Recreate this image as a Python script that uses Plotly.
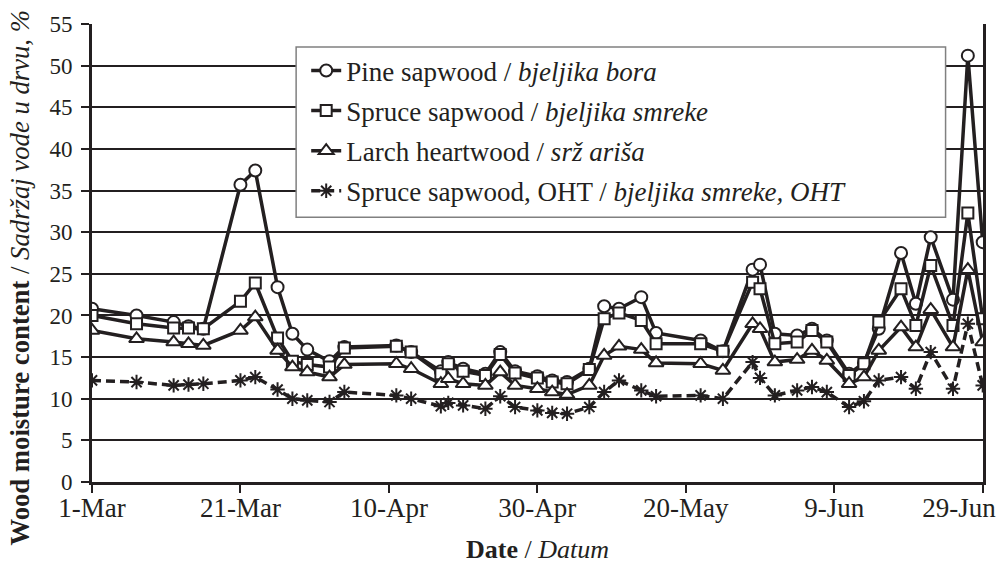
import plotly.graph_objects as go

# measurement dates (2021 season, day-month)
dates = ["2021-03-01", "2021-03-07", "2021-03-12", "2021-03-14", "2021-03-16",
         "2021-03-21", "2021-03-23", "2021-03-26", "2021-03-28", "2021-03-30",
         "2021-04-02", "2021-04-04", "2021-04-11", "2021-04-13", "2021-04-17",
         "2021-04-18", "2021-04-20", "2021-04-23", "2021-04-25", "2021-04-27",
         "2021-04-30", "2021-05-02", "2021-05-04", "2021-05-07", "2021-05-09",
         "2021-05-11", "2021-05-14", "2021-05-16", "2021-05-22", "2021-05-25",
         "2021-05-29", "2021-05-30", "2021-06-01", "2021-06-04", "2021-06-06",
         "2021-06-08", "2021-06-11", "2021-06-13", "2021-06-15", "2021-06-18",
         "2021-06-20", "2021-06-22", "2021-06-25", "2021-06-27", "2021-06-29"]

pine = [20.8, 20.0, 19.2, 18.7, 18.4, 35.7, 37.4, 23.4, 17.8, 15.9,
        14.5, 16.2, 16.4, 15.6, 13.3, 14.4, 13.6, 13.0, 15.6, 13.3,
        12.7, 12.2, 12.0, 13.6, 21.1, 20.8, 22.2, 17.9, 17.0, 15.7,
        25.5, 26.1, 17.8, 17.6, 18.4, 17.0, 13.0, 14.3, 18.4, 27.5,
        21.4, 29.4, 21.9, 51.2, 28.8]

spruce = [20.0, 19.0, 18.5, 18.5, 18.4, 21.7, 23.9, 17.3, 14.5, 14.1,
          13.8, 16.1, 16.3, 15.6, 13.0, 14.2, 13.3, 12.8, 15.3, 13.1,
          12.5, 12.0, 11.8, 13.5, 19.6, 20.3, 19.4, 16.6, 16.6, 15.7,
          24.0, 23.2, 16.6, 16.8, 18.2, 16.8, 12.8, 14.2, 19.2, 23.2,
          18.8, 26.0, 18.8, 32.3, 19.6]

larch = [18.2, 17.2, 16.8, 16.6, 16.4, 18.2, 19.8, 15.8, 13.8, 13.2,
         12.6, 14.1, 14.2, 13.6, 11.8, 12.4, 11.8, 11.6, 13.2, 11.6,
         11.2, 10.8, 10.5, 11.6, 15.2, 16.3, 15.9, 14.3, 14.2, 13.4,
         19.0, 18.4, 14.4, 14.7, 15.8, 14.6, 11.8, 12.6, 15.8, 18.6,
         16.2, 20.7, 16.2, 25.5, 16.8]

spruce_oht = [12.2, 12.0, 11.6, 11.7, 11.8, 12.2, 12.6, 11.1, 10.0, 9.8,
              9.6, 10.8, 10.4, 10.0, 9.1, 9.5, 9.2, 8.8, 10.3, 9.0,
              8.6, 8.3, 8.2, 9.0, 10.8, 12.2, 11.0, 10.3, 10.4, 10.0,
              14.4, 12.5, 10.4, 11.0, 11.4, 10.8, 9.0, 9.7, 12.2, 12.6,
              11.2, 15.6, 11.2, 19.0, 11.6]

series_names = ["Pine sapwood / <i>bjeljika bora</i>",
                "Spruce sapwood / <i>bjeljika smreke</i>",
                "Larch heartwood / <i>srž ariša</i>",
                "Spruce sapwood, OHT / <i>bjeljika smreke, OHT</i>"]

tick_dates = ["2021-03-01", "2021-03-21", "2021-04-10", "2021-04-30",
              "2021-05-20", "2021-06-09", "2021-06-29"]
tick_labels = ["1-Mar", "21-Mar", "10-Apr", "30-Apr", "20-May", "9-Jun", "29-Jun"]

y_ticks = list(range(0, 56, 5))

INK = "#231f20"
FONT = "Liberation Serif, 'Times New Roman', Times, 'DejaVu Serif', serif"

fig = go.Figure()

styles = [
    dict(symbol="circle", size=12, dash="solid", fill="white"),
    dict(symbol="square", size=11, dash="solid", fill="white"),
    dict(symbol="triangle-up", size=13, dash="solid", fill="white"),
    dict(symbol="asterisk-open", size=12, dash="9px,5px", fill=INK),
]
for i, (name, vals, st) in enumerate(zip(series_names,
                                         [pine, spruce, larch, spruce_oht], styles)):
    fig.add_trace(go.Scatter(
        x=dates, y=vals, name=name, mode="lines+markers",
        legendgroup=f"g{i}",
        line=dict(color=INK, width=3.5, dash=st["dash"]),
        marker=dict(symbol=st["symbol"], size=st["size"], color=st["fill"],
                    line=dict(color=INK, width=2)),
    ))

# padded last label so it stays inside the page like the original
ticktext = tick_labels[:-1] + [tick_labels[-1] + "&nbsp;" * 7]

fig.update_layout(
    width=996, height=565,
    margin=dict(l=92, r=13, t=24, b=83, autoexpand=False),
    paper_bgcolor="white", plot_bgcolor="white",
    font=dict(family=FONT, color=INK, size=27),
    showlegend=True,
    legend=dict(x=0.2404, y=0.951, xanchor="left", yanchor="top",
                bgcolor="rgba(0,0,0,0)", borderwidth=0,
                tracegroupgap=2,
                font=dict(family=FONT, size=27, color=INK),
                itemwidth=30),
    shapes=[dict(type="rect", xref="paper", yref="paper",
                 x0=0.2291, x1=0.958, y0=0.5783, y1=0.9497,
                 fillcolor="white", line=dict(color="#808080", width=1.5),
                 layer="above")],
    annotations=[
        dict(text="<b>Wood moisture content</b> / <i>Sadržaj vode u drvu, %</i>",
             xref="paper", yref="paper", x=-0.0804, y=0.445, textangle=-90,
             xanchor="center", yanchor="middle", showarrow=False,
             font=dict(family=FONT, size=26.7, color=INK)),
        dict(text="<b>Date</b> / <i>Datum</i>",
             xref="paper", yref="paper", x=0.5, y=-0.148,
             xanchor="center", yanchor="middle", showarrow=False,
             font=dict(family=FONT, size=26, color=INK)),
    ],
)

fig.update_xaxes(
    type="date", range=["2021-03-01", "2021-06-29 01:00"],
    tickvals=tick_dates, ticktext=ticktext, automargin=False,
    showgrid=False, zeroline=False,
    showline=True, linecolor=INK, linewidth=3,
    ticks="outside", ticklen=8, tickwidth=2, tickcolor=INK,
    ticklabelstandoff=-8, ticklabeloverflow="allow",
    tickfont=dict(family=FONT, size=27, color=INK),
)
fig.update_yaxes(
    range=[0, 55], tickvals=y_ticks, automargin=False,
    showgrid=True, gridcolor=INK, gridwidth=1.5, zeroline=False,
    showline=True, linecolor=INK, linewidth=3, mirror=True,
    ticks="outside", ticklen=8, tickwidth=2, tickcolor=INK,
    ticklabelstandoff=4,
    tickfont=dict(family=FONT, size=23, color=INK),
)

fig.write_html("out.html", config={"displayModeBar": False})

# remove the default page margin so the figure sits at the window origin
with open("out.html", "r", encoding="utf-8") as f:
    html = f.read()
html = html.replace("<head>", "<head><style>html,body{margin:0;padding:0;overflow:hidden;}</style>", 1)
with open("out.html", "w", encoding="utf-8") as f:
    f.write(html)
